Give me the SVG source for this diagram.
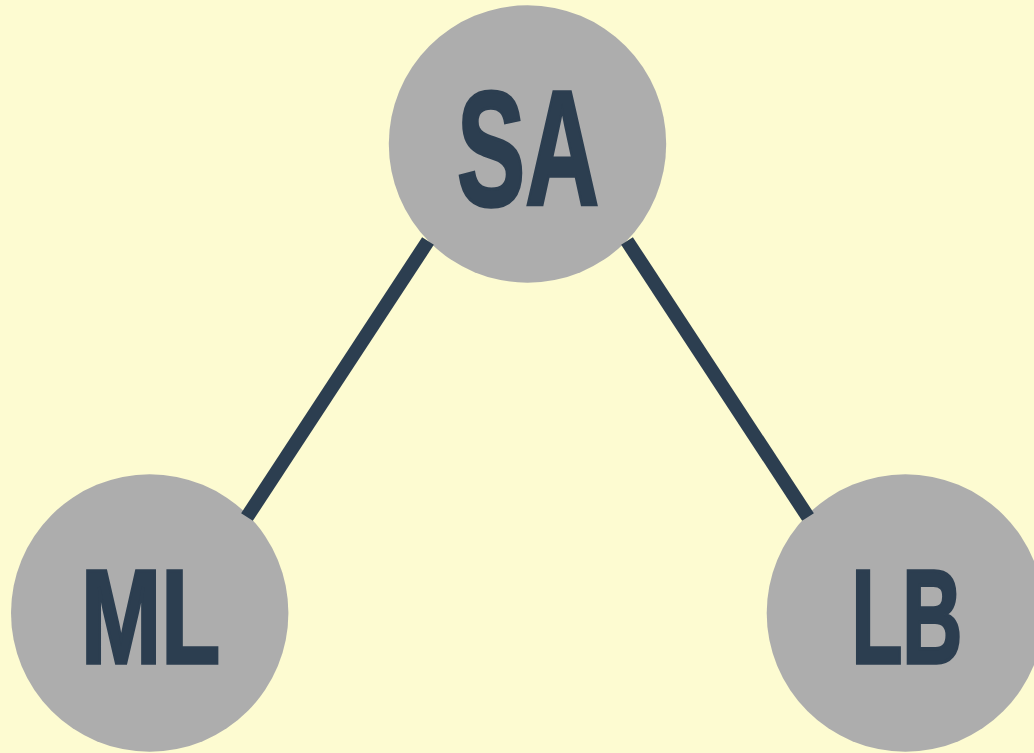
<svg xmlns="http://www.w3.org/2000/svg" width="1034" height="753" viewBox="0 0 1034 753">
  <style>
    .node circle { fill: #adadad; }
    .node text { fill: #2c3e50; stroke: #2c3e50; stroke-width: 3.5; stroke-linejoin: miter; font-family: "Liberation Sans", Arial, sans-serif; font-weight: bold; }
    .edge { stroke: #2c3e50; stroke-width: 14; stroke-linecap: butt; fill: none; }
  </style>
  <rect width="1034" height="753" fill="#fdfbd1"/>
  <g id="node-SA" class="node">
    <circle cx="527.5" cy="144" r="138.7"/>
    <text x="457" y="205" font-size="163" textLength="142" lengthAdjust="spacingAndGlyphs">SA</text>
  </g>
  <g id="node-ML" class="node">
    <circle cx="149.7" cy="613" r="138.7"/>
    <text x="81" y="662.6" font-size="133" textLength="139" lengthAdjust="spacingAndGlyphs">ML</text>
  </g>
  <g id="node-LB" class="node">
    <circle cx="905.4" cy="613" r="138.7"/>
    <text x="851.5" y="662.6" font-size="133" textLength="111" lengthAdjust="spacingAndGlyphs">LB</text>
  </g>
  <!-- edges sit on top of the discs, ending at their rims -->
  <g id="connectors">
    <line class="edge" x1="428" y1="241" x2="247" y2="517"/>
    <line class="edge" x1="627" y1="241" x2="808" y2="517"/>
  </g>
</svg>
